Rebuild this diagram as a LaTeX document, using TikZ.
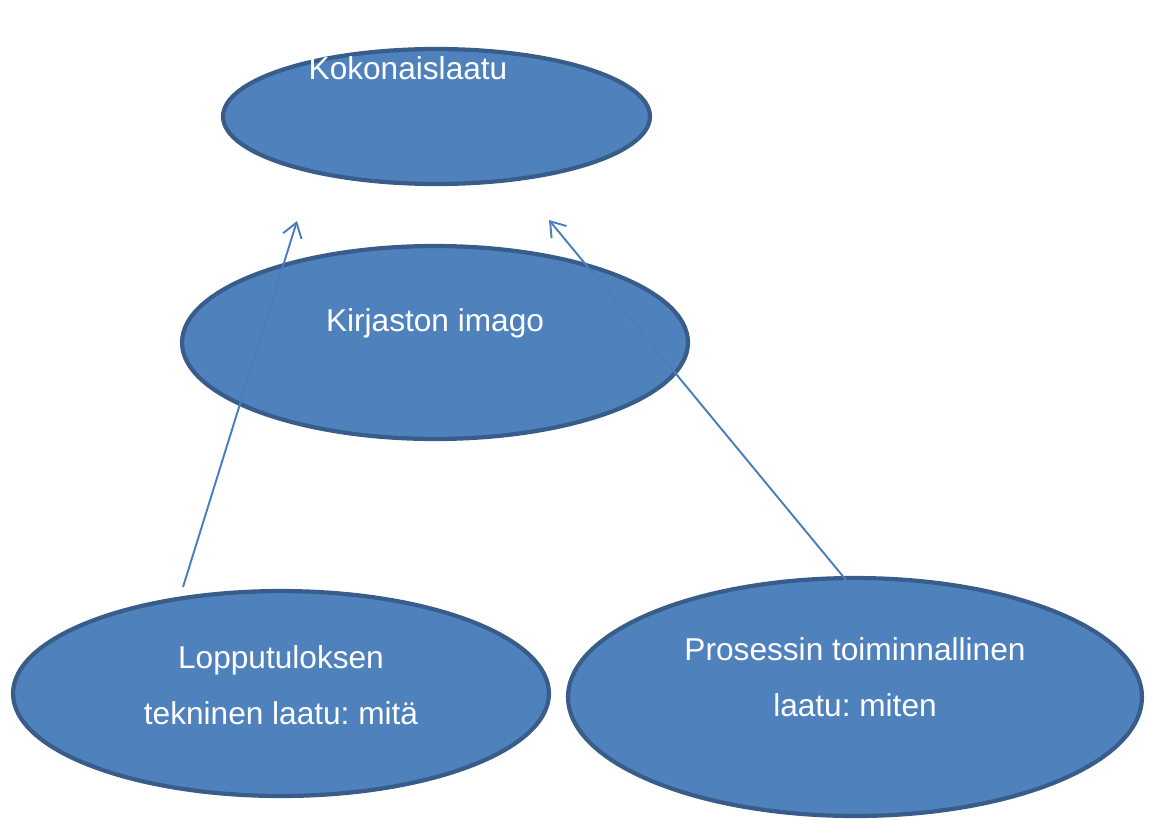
\documentclass[tikz,border=0pt]{standalone}
\usepackage{fontspec}
\setmainfont{Liberation Sans}
\usetikzlibrary{arrows.meta,shapes.geometric}
\definecolor{BubbleClr}{RGB}{79,129,189}
\definecolor{EdgeClr}{RGB}{56,93,138}
\definecolor{ArrowClr}{RGB}{74,126,187}
\frenchspacing

\begin{document}
\begin{tikzpicture}[x=0.02cm,y=-0.02cm,
  bubble/.style={ellipse,draw=EdgeClr,line width=2.4pt,fill=BubbleClr,inner sep=0pt},
  txt/.style={text=white,align=center,font=\fontsize{18}{32}\selectfont},
  pointer/.style={draw=ArrowClr,line width=1.1pt,-{Straight Barb[length=8pt,width=11pt]}}]
\useasboundingbox (0,0) rectangle (1149,819);

% ellipses
\node[bubble,minimum width=8.54cm,minimum height=2.70cm] (koko) at (436.5,116.5) {};
\node[bubble,minimum width=10.12cm,minimum height=3.86cm] (imago) at (435,342.5) {};
\node[bubble,minimum width=10.72cm,minimum height=4.10cm] (loppu) at (281,693.5) {};
\node[bubble,minimum width=11.48cm,minimum height=4.76cm] (prosessi) at (855,697) {};

% texts
\node[txt] (kokoText) at (408,68) {Kokonaislaatu};
\node[txt] (imagoText) at (435,323) {Kirjaston imago};
\node[txt] (loppuText) at (281,685) {Lopputuloksen\\tekninen laatu: mitä};
\node[txt] (prosessiText) at (855,677) {Prosessin toiminnallinen\\laatu: miten};

% arrows
\coordinate (loppuTop) at (183,587);
\coordinate (kokoLeft) at (297,221);
\coordinate (prosessiTop) at (846,580);
\coordinate (kokoRight) at (549,220);
\draw[pointer] (loppuTop) -- (kokoLeft);
\draw[pointer] (prosessiTop) -- (kokoRight);
\end{tikzpicture}
\end{document}
